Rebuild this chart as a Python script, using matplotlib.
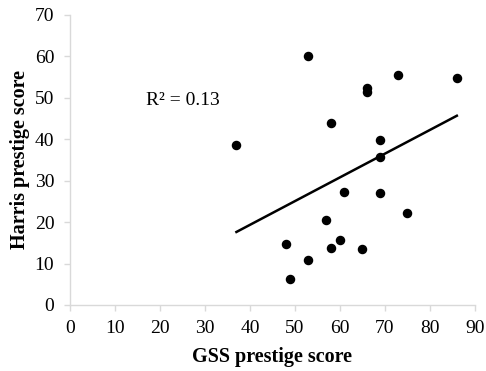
import numpy as np
import matplotlib
matplotlib.use('Agg')
import matplotlib.pyplot as plt

plt.rcParams['font.family'] = ['Liberation Serif', 'DejaVu Serif']

# GSS vs Harris prestige scores
gss = [53, 73, 86, 66, 66, 58, 69, 37, 69, 61, 69, 75, 57, 48, 60, 58, 65, 53, 49]
harris = [60, 55.5, 54.7, 52.3, 51.3, 43.9, 39.8, 38.5, 35.6, 27.2, 26.9, 22.3,
          20.6, 14.6, 15.6, 13.7, 13.4, 10.9, 6.2]

# linear trend
m, b = np.polyfit(gss, harris, 1)
xs = np.array([min(gss), max(gss)])

fig = plt.figure(figsize=(4.86, 3.71), dpi=100)
ax = fig.add_axes([0.144, 0.178, 0.833, 0.782])

ax.scatter(gss, harris, s=34, color='black', zorder=3)
ax.plot(xs, m * xs + b, color='black', lw=1.8)
ax.text(17.0, 49.3, 'R² = 0.13', fontsize=14, va='center', ha='left')

ax.set_xlim(0, 90)
ax.set_ylim(0, 70)
ax.set_xticks(range(0, 91, 10))
ax.set_yticks(range(0, 71, 10))
for s in ['top', 'right']:
    ax.spines[s].set_visible(False)
for s in ['left', 'bottom']:
    ax.spines[s].set_color('#d9d9d9')
    ax.spines[s].set_linewidth(1.0)
ax.tick_params(colors='#d9d9d9', labelcolor='black', labelsize=14, length=4.3, width=1.0)
ax.tick_params(axis='y', pad=7)
ax.tick_params(axis='x', pad=6.5)
ax.set_xlabel('GSS prestige score', fontsize=14.5, fontweight='bold', labelpad=7)
ax.set_ylabel('Harris prestige score', fontsize=14.5, fontweight='bold', labelpad=3)

fig.savefig('out.png', dpi=100)
